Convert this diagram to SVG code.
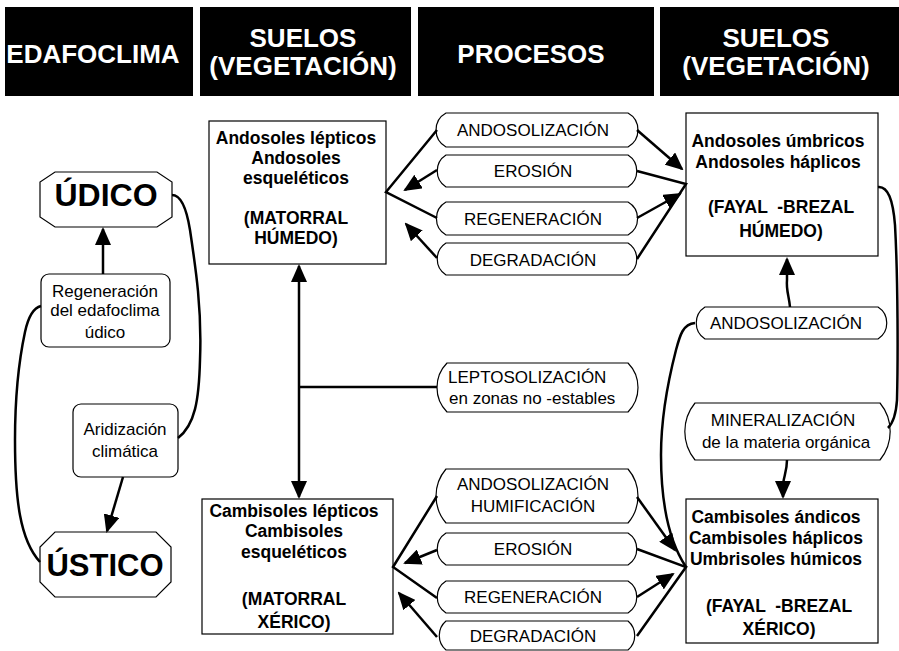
<svg xmlns="http://www.w3.org/2000/svg" width="899" height="651" viewBox="0 0 899 651">
<style>
text{font-family:"Liberation Sans",Arial,Helvetica,sans-serif;fill:#000}
.hd{fill:#000}
.ht{font-size:26px;font-weight:bold;fill:#fff;text-anchor:middle}
.bx{fill:#fff;stroke:#000;stroke-width:1.2}
.bt{font-size:17.5px;font-weight:bold;text-anchor:middle}
.pt{font-size:17px;text-anchor:middle}
.big{font-size:32px;font-weight:bold;text-anchor:middle}
.ln{fill:none;stroke:#000;stroke-width:2.5}
.ar{fill:none;stroke:#000;stroke-width:2.5;marker-end:url(#ah)}
</style>
<defs>
<marker id="ah" markerUnits="userSpaceOnUse" markerWidth="18" markerHeight="16" viewBox="0 0 18 16" refX="16" refY="8" orient="auto-start-reverse">
<path d="M0,0 L18,8 L0,16 Z" fill="#000"/>
</marker>
</defs>
<rect width="899" height="651" fill="#fff"/>

<g id="header">
<rect class="hd" x="5" y="7" width="188" height="89"/>
<rect class="hd" x="200" y="7" width="211" height="89"/>
<rect class="hd" x="418" y="7" width="236" height="89"/>
<rect class="hd" x="660" y="7" width="239" height="89"/>
<text class="ht" x="93" y="63">EDAFOCLIMA</text>
<text class="ht" x="303" y="47">SUELOS</text>
<text class="ht" x="303" y="75">(VEGETACIÓN)</text>
<text class="ht" x="531" y="63">PROCESOS</text>
<text class="ht" x="776" y="47">SUELOS</text>
<text class="ht" x="776" y="75">(VEGETACIÓN)</text>
</g>

<g id="udico">
<polygon class="bx" points="55,172 157,172 172,182 172,217 157,227 55,227 40,217 40,182"/>
<text class="big" x="106" y="206">ÚDICO</text>
</g>
<g id="ustico">
<polygon class="bx" points="55,532 156,532 171,547 171,582 156,597 55,597 40,582 40,547"/>
<text class="big" x="105" y="576" style="font-size:31px">ÚSTICO</text>
</g>
<g id="regeneracion-edafoclima">
<rect class="bx" x="41" y="274" width="129" height="73" rx="8"/>
<text class="pt" x="105" y="297">Regeneración</text>
<text class="pt" x="105" y="316">del edafoclima</text>
<text class="pt" x="105" y="338">údico</text>
</g>
<g id="aridizacion">
<rect class="bx" x="73" y="404" width="105" height="73" rx="8"/>
<text class="pt" x="125" y="435">Aridización</text>
<text class="pt" x="125" y="457">climática</text>
</g>

<g id="andosoles-lepticos">
<rect class="bx" x="209" y="121" width="177" height="143"/>
<text class="bt" x="296" y="144">Andosoles lépticos</text>
<text class="bt" x="296" y="164">Andosoles</text>
<text class="bt" x="296" y="184">esqueléticos</text>
<text class="bt" x="296" y="224">(MATORRAL</text>
<text class="bt" x="296" y="244">HÚMEDO)</text>
</g>
<g id="andosoles-umbricos">
<rect class="bx" x="686" y="113" width="192" height="143"/>
<text class="bt" x="778" y="147">Andosoles úmbricos</text>
<text class="bt" x="778" y="168">Andosoles háplicos</text>
<text class="bt" x="781" y="213" xml:space="preserve">(FAYAL  -BREZAL</text>
<text class="bt" x="781" y="237">HÚMEDO)</text>
</g>
<g id="cambisoles-lepticos">
<rect class="bx" x="202" y="499" width="191" height="135"/>
<text class="bt" x="294" y="517">Cambisoles lépticos</text>
<text class="bt" x="294" y="537">Cambisoles</text>
<text class="bt" x="294" y="558">esqueléticos</text>
<text class="bt" x="294" y="605">(MATORRAL</text>
<text class="bt" x="294" y="628">XÉRICO)</text>
</g>
<g id="cambisoles-andicos">
<rect class="bx" x="686" y="499" width="192" height="144"/>
<text class="bt" x="776" y="523">Cambisoles ándicos</text>
<text class="bt" x="776" y="544">Cambisoles háplicos</text>
<text class="bt" x="776" y="565">Umbrisoles húmicos</text>
<text class="bt" x="779" y="612" xml:space="preserve">(FAYAL  -BREZAL</text>
<text class="bt" x="779" y="635">XÉRICO)</text>
</g>

<g id="p-andosolizacion-1">
<path class="bx" d="M446,113 H628 A19.5,19.5 0 0 1 628,147 H446 A19.5,19.5 0 0 1 446,113 Z"/>
<text class="pt" x="533" y="136">ANDOSOLIZACIÓN</text>
</g>
<g id="p-erosion-1">
<path class="bx" d="M446,155 H628 A19,19 0 0 1 628,187 H446 A19,19 0 0 1 446,155 Z"/>
<text class="pt" x="533" y="177">EROSIÓN</text>
</g>
<g id="p-regeneracion-1">
<path class="bx" d="M446,202 H628 A19,19 0 0 1 628,235 H446 A19,19 0 0 1 446,202 Z"/>
<text class="pt" x="533" y="225">REGENERACIÓN</text>
</g>
<g id="p-degradacion-1">
<path class="bx" d="M446,243 H628 A19,19 0 0 1 628,275 H446 A19,19 0 0 1 446,243 Z"/>
<text class="pt" x="533" y="266">DEGRADACIÓN</text>
</g>

<g id="p-leptosolizacion">
<path class="bx" d="M447,363 H628 A35,35 0 0 1 628,412 H447 A35,35 0 0 1 447,363 Z"/>
<text class="pt" x="448" y="383" style="text-anchor:start">LEPTOSOLIZACIÓN</text>
<text class="pt" x="449" y="404" style="text-anchor:start">en zonas no -estables</text>
</g>
<g id="p-andosolizacion-2">
<path class="bx" d="M705,307 H878 A19,19 0 0 1 878,339 H705 A19,19 0 0 1 705,307 Z"/>
<text class="pt" x="786" y="329">ANDOSOLIZACIÓN</text>
</g>
<g id="p-mineralizacion">
<path class="bx" d="M695,403 H880 A45,45 0 0 1 880,460 H695 A45,45 0 0 1 695,403 Z"/>
<text class="pt" x="783" y="426">MINERALIZACIÓN</text>
<text class="pt" x="786" y="448">de la materia orgánica</text>
</g>

<g id="p-andosolizacion-humificacion">
<path class="bx" d="M446,469 H628 A41.5,41.5 0 0 1 628,523 H446 A41.5,41.5 0 0 1 446,469 Z"/>
<text class="pt" x="533" y="490">ANDOSOLIZACIÓN</text>
<text class="pt" x="533" y="512">HUMIFICACIÓN</text>
</g>
<g id="p-erosion-2">
<path class="bx" d="M446,533 H628 A19,19 0 0 1 628,565 H446 A19,19 0 0 1 446,533 Z"/>
<text class="pt" x="533" y="555">EROSIÓN</text>
</g>
<g id="p-regeneracion-2">
<path class="bx" d="M446,581 H628 A19,19 0 0 1 628,613 H446 A19,19 0 0 1 446,581 Z"/>
<text class="pt" x="533" y="603">REGENERACIÓN</text>
</g>
<g id="p-degradacion-2">
<path class="bx" d="M446,621 H628 A19,19 0 0 1 628,650 H446 A19,19 0 0 1 446,621 Z"/>
<text class="pt" x="533" y="642">DEGRADACIÓN</text>
</g>

<g id="connectors">
<!-- left column -->
<line class="ar" x1="103" y1="274" x2="103" y2="229"/>
<line class="ar" x1="123" y1="477" x2="107" y2="531"/>
<path class="ln" d="M41,306 C33,308 28,318 25,332 C19,360 15,400 15,440 C15,500 20,540 40,562"/>
<path class="ln" d="M172,195 C180,195 186,205 190,230 C196,270 202,310 200,360 C199,400 195,425 178,438"/>
<!-- top-left node -->
<polyline class="ln" points="437,130 386,192 437,218"/>
<line class="ar" x1="437" y1="170" x2="405" y2="190"/>
<line class="ar" x1="437" y1="258" x2="406" y2="224"/>
<!-- top-right node -->
<line class="ar" x1="637" y1="130" x2="682" y2="169"/>
<polyline class="ln" points="637,171 686,184 637,259"/>
<line class="ar" x1="637" y1="218" x2="680" y2="194"/>
<!-- bottom-left node -->
<polyline class="ln" points="437,496 393,567 437,598"/>
<line class="ar" x1="437" y1="550" x2="405" y2="563"/>
<line class="ar" x1="437" y1="637" x2="399" y2="593"/>
<!-- bottom-right node -->
<line class="ar" x1="637" y1="497" x2="675" y2="550"/>
<polyline class="ln" points="637,549 686,567 637,636"/>
<line class="ar" x1="637" y1="597" x2="673" y2="574"/>
<!-- vertical double arrow and leptosolizacion -->
<line class="ar" x1="299" y1="266" x2="299" y2="497" style="marker-start:url(#ah)"/>
<line class="ln" x1="299" y1="387" x2="437" y2="387"/>
<!-- right side -->
<path class="ar" d="M790,307 C789,296 786,290 787,280 L787,259"/>
<path class="ar" d="M787,460 C787,472 783,478 783,486 L783,497"/>
<path class="ln" d="M878,187 C888,186 893,200 895,225 C898,280 898,360 897,400 C896,415 892,424 888,428"/>
<path class="ln" d="M695,323 C683,324 680,335 676,350 C667,385 661,420 661,455 C661,500 668,540 686,567"/>
</g>
</svg>
